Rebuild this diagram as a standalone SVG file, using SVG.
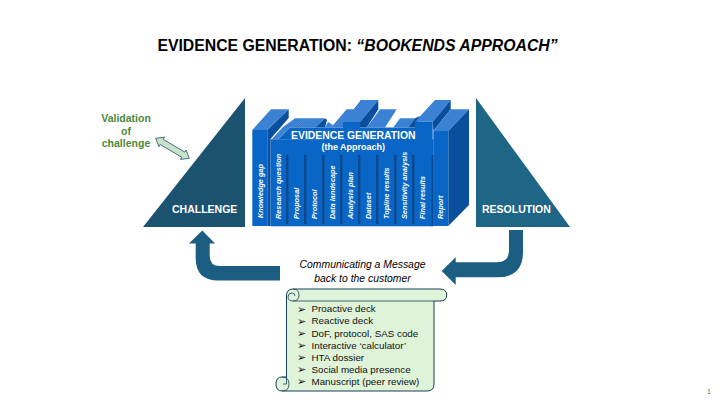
<svg xmlns="http://www.w3.org/2000/svg" width="720" height="405" viewBox="0 0 720 405">
<style>
text{font-family:"Liberation Sans",Arial,sans-serif}
.top{fill:#3b82d4}
.side{fill:#0a4f9e}
.front{fill:#0a66c6}
.gap{fill:#0a4a90}
.spine{font-size:7.3px;font-weight:bold;font-style:italic;fill:#fff}
.tri{font-size:10.5px;font-weight:bold;fill:#fff}
.val{font-size:10.5px;font-weight:bold;fill:#4c8a3a;text-anchor:middle}
.msg{font-size:10.4px;font-style:italic;fill:#000;text-anchor:middle}
.li{font-size:9.8px;fill:#111}
.bu{font-size:11px;fill:#111;font-family:"DejaVu Sans",sans-serif}
.arr{fill:#1b5e82}
.scr{fill:#def3d8;stroke:#1a3f58;stroke-width:1}
</style>
<rect width="720" height="405" fill="#fff"/>
<text x="357.5" y="51" font-size="15.8" font-weight="bold" text-anchor="middle" fill="#000">EVIDENCE GENERATION: <tspan font-style="italic">“BOOKENDS APPROACH”</tspan></text>

<g id="challenge">
<polygon points="245,98 245,227 143,227" fill="#1b5270"/>
<text class="tri" x="172" y="213">CHALLENGE</text>
</g>
<g id="resolution">
<polygon points="476,98 476,227 570,227" fill="#1f6586"/>
<text class="tri" x="482" y="213">RESOLUTION</text>
</g>
<g id="validation">
<text class="val" x="126" y="122">Validation</text>
<text class="val" x="126" y="134.500">of</text>
<text class="val" x="126" y="147">challenge</text>
</g>

<g id="books">
<polygon class="side" points="267.300,130 288.700,109.300 288.700,118 270.500,139 270.500,226 267.300,226"/>
<polygon class="top" points="252.300,130 271,109.300 288.700,109.300 267.300,130"/>
<polygon class="top" points="271.700,139.300 283,127 295,118.300 306,118.300 296.500,127.500 290,127.500 278,139.300"/>
<polygon class="side" points="306,118.300 307,118.300 298,127.500 296.500,127.500"/>
<polygon class="top" points="298,127.500 307,118.300 325,118.300 315,127.500"/>
<polygon class="side" points="315,127.500 325,118.300 327,120 325,127.500"/>
<polygon class="top" points="325,127.500 328,122 333,125 331,127.500"/>
<polygon class="top" points="331,127.500 346.700,109.300 355,109.300 343,122 343,127.500"/>
<polygon class="side" points="352,112 361,100 365,100 350,122"/>
<polygon class="top" points="342.700,122 361.700,100 378.300,100 360,122"/>
<polygon class="side" points="360,122 378.300,100 378.300,109.300 366.700,127.500 360,127.500"/>
<polygon class="top" points="366.700,127.500 380,109.300 396.700,109.300 385,127.500"/>
<polygon class="top" points="393.300,127.500 400,118.300 415,118.300 408,127.500"/>
<polygon class="side" points="408,127.500 415,118.300 420,116 415,127.500"/>
<polygon class="top" points="415,121.700 435,100 450.700,100 432.700,121.700"/>
<polygon class="side" points="432.700,121.700 450.700,100 450.700,109.300 433.300,131"/>
<polygon class="top" points="433.300,131 450.700,109.300 469,109.300 448.300,131"/>
<polygon class="side" points="448.300,131 469,109.300 469,205 448.300,226"/>
<rect class="front" x="252.300" y="130" width="15" height="96"/>
<rect class="front" x="270.500" y="139.300" width="163" height="87"/>
<polygon class="front" points="278,139.500 290,127.500 343,127.500 343,122 360,122 360,127.500 415,127.500 415,121.700 432.700,121.700 432.700,140"/>
<rect class="front" x="433.300" y="131" width="15" height="95"/>
<rect class="gap" x="286" y="155" width="2.500" height="69"/>
<rect class="gap" x="304" y="155" width="2.500" height="69"/>
<rect class="gap" x="322" y="155" width="2.500" height="69"/>
<rect class="gap" x="340" y="155" width="2.500" height="69"/>
<rect class="gap" x="358" y="155" width="2.500" height="69"/>
<rect class="gap" x="376" y="155" width="2.500" height="69"/>
<rect class="gap" x="394" y="155" width="2.500" height="69"/>
<rect class="gap" x="412" y="155" width="2.500" height="69"/>
<rect class="gap" x="431.500" y="155" width="2" height="71"/>
<text x="353.300" y="139" font-size="10.400" font-weight="bold" fill="#fff" text-anchor="middle">EVIDENCE GENERATION</text>
<text x="353.300" y="150" font-size="9" font-weight="bold" fill="#fff" text-anchor="middle">(the Approach)</text>
<text class="spine" transform="translate(262.500,218) rotate(-90)">Knowledge gap</text>
<text class="spine" transform="translate(280.500,219) rotate(-90)">Research question</text>
<text class="spine" transform="translate(298.500,219) rotate(-90)">Proposal</text>
<text class="spine" transform="translate(316.500,219) rotate(-90)">Protocol</text>
<text class="spine" transform="translate(334.500,219) rotate(-90)">Data landscape</text>
<text class="spine" transform="translate(352.500,219) rotate(-90)">Analysis plan</text>
<text class="spine" transform="translate(370.500,219) rotate(-90)">Dataset</text>
<text class="spine" transform="translate(388.500,219) rotate(-90)">Topline results</text>
<text class="spine" transform="translate(406.500,219) rotate(-90)">Sensitivity analysis</text>
<text class="spine" transform="translate(424.500,219) rotate(-90)">Final results</text>
<text class="spine" transform="translate(442.500,219) rotate(-90)">Report</text>
</g>

<g id="connectors">
<path class="arr" d="M202.300,230.500 L215,243.500 L209.700,243.500 L209.700,256 Q209.700,266 220,266 L280,266 L280,280.500 L218,280.500 Q195.700,280.500 195.700,258 L195.700,243.500 L189,243.500 Z"/>
<path class="arr" d="M509,230 L523,230 L523,252 Q523,277.300 497,277.300 L455.700,277.300 L455.700,285 L441.700,271 L455.700,257.300 L455.700,262.300 L497,262.300 Q509,262.300 509,250 Z"/>
<polygon points="155.700,138.300 164.500,137.200 163.200,139.300 184.800,152.100 186.100,150 189.300,158.300 180.500,159.400 181.800,157.300 160.200,144.500 158.900,146.600" fill="#c9e2cb" stroke="#1b5270" stroke-width="0.800"/>
</g>

<g id="message">
<text class="msg" x="362.500" y="268">Communicating a Message</text>
<text class="msg" x="362.500" y="282">back to the customer</text>
</g>

<g id="scroll">
<path class="scr" d="M286.500,296 Q286.500,289 293,289 L440,289 Q446.700,289 446.700,295 Q446.700,301 440,301 L434,301 L434,384 Q434,391 427,391 L282,391 Q276,391 276,384 Q276,377 282,377 L286.500,377 Z"/>
<path d="M293,289 Q299,289 299,295 Q299,301 293,301 L434,301" fill="none" stroke="#1a3f58" stroke-width="0.800"/>
<path d="M293,301 Q288,301 288,297 Q288,293 292,293 Q295,293 295,296" fill="none" stroke="#1a3f58" stroke-width="0.800"/>
<path d="M282,377 Q289,377 289,384 Q289,391 282,391 M286.500,377 L286.500,384 L283,384" fill="none" stroke="#1a3f58" stroke-width="0.800"/>
<text class="bu" x="297" y="312.500">➢</text><text class="li" x="311.500" y="312.300">Proactive deck</text>
<text class="bu" x="297" y="324.500">➢</text><text class="li" x="311.500" y="324.400">Reactive deck</text>
<text class="bu" x="297" y="336.500">➢</text><text class="li" x="311.500" y="336.500">DoF, protocol, SAS code</text>
<text class="bu" x="297" y="348.500">➢</text><text class="li" x="311.500" y="348.600">Interactive ‘calculator’</text>
<text class="bu" x="297" y="360.500">➢</text><text class="li" x="311.500" y="360.700">HTA dossier</text>
<text class="bu" x="297" y="373">➢</text><text class="li" x="311.500" y="372.800">Social media presence</text>
<text class="bu" x="297" y="385">➢</text><text class="li" x="311.500" y="384.900">Manuscript (peer review)</text>
</g>
<text x="707" y="394" font-size="7" fill="#666">1</text>
</svg>
